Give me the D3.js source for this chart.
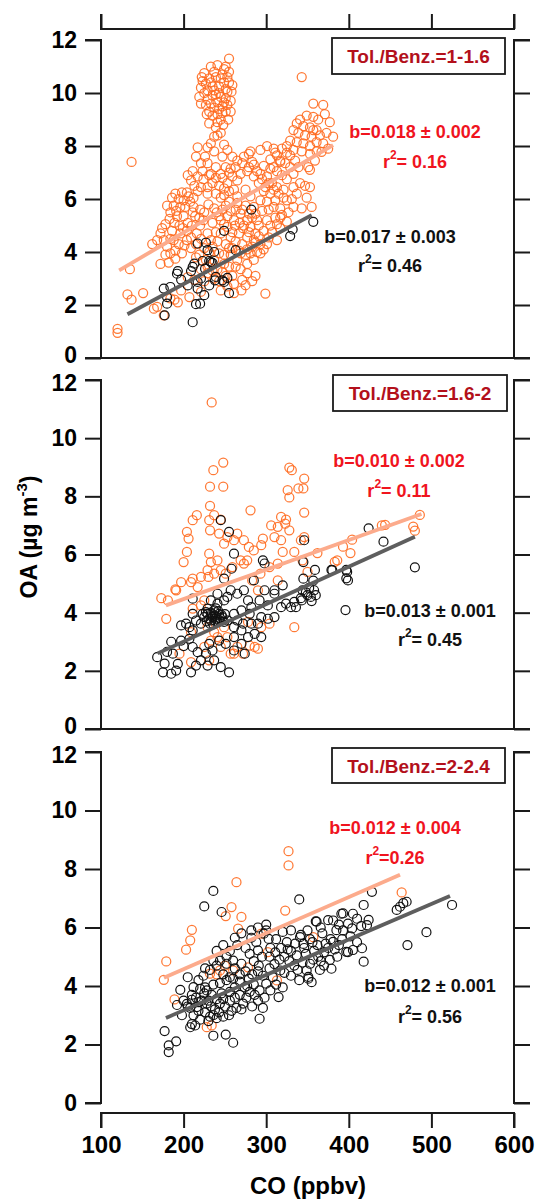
<!DOCTYPE html>
<html><head><meta charset="utf-8">
<script src="https://cdn.jsdelivr.net/npm/d3@7"></script>
<style>body{margin:0;background:#fff}svg{display:block}text{font-family:Arial,"Liberation Sans",sans-serif;font-weight:bold}</style>
</head><body><svg id="c" width="538" height="1201"></svg>
<script>
// ---------------- DATA ----------------
const xTicks = [100, 200, 300, 400, 500, 600];
const yTicks = [0, 2, 4, 6, 8, 10, 12];
const panelLabels = ["Tol./Benz.=1-1.6", "Tol./Benz.=1.6-2", "Tol./Benz.=2-2.4"];
const redSlopeText = ["b=0.018 ± 0.002", "b=0.010 ± 0.002", "b=0.012 ± 0.004"];
const redR2Text = ["= 0.16", "= 0.11", "=0.26"];
const blackSlopeText = ["b=0.017 ± 0.003", "b=0.013 ± 0.001", "b=0.012 ± 0.001"];
const blackR2Text = ["= 0.46", "= 0.45", "= 0.56"];
// fit lines: [CO start, OA start, CO end, OA end]
const orangeFit = [[122, 3.31, 381, 8.03], [178.6, 4.25, 488, 7.39], [176.2, 4.28, 462, 7.8]];
const grayFit = [[132, 1.65, 355, 5.39], [168.5, 2.6, 480, 6.61], [178.6, 2.91, 522.5, 7.08]];

// panel 1 (Tol./Benz. = 1-1.6) [CO, OA]
const p1Orange = [
[255,11.3],[249,10.9],[237,10.8],[225,10.75],[222,10.6],[255,10.8],[245,10.55],[233,10.4],[221,10.2],[229,10.1],[237,10.1],[249,10.4],[255,10.4],[259,10.3],[253,10.05],[243,10.0],[235,9.9],[225,10.0],[219,9.85],[229,9.75],[241,9.65],[251,9.8],[257,9.7],[247,9.5],[237,9.45],[231,9.3],[241,9.2],[251,9.3],[257,9.3],[245,9.0],[231,8.85],[241,8.9],[227,10.35],[243,10.25],[251,10.15],[233,9.6],[245,9.85],[239,10.6],[228,9.2],[254,9.0],[248,8.8],
[223,10.45],[235,10.25],[247,10.7],[253,10.6],[258,10.05],[231,10.55],[239,9.95],[249,9.65],[227,9.55],[221,9.6],[235,9.15],[243,9.4],[253,9.55],[239,8.7],[247,9.25],[233,11.0],[241,11.05],[251,11.0],
[137,7.4],[343,10.6],[120,1.1],[120,0.95],[135,3.35],[132,2.4],[137,2.2],[151,2.45],[299,2.43],[164,1.86],[176,1.61],[168,1.93],
[357,9.6],[369,9.55],[377,8.9],[381,8.35],[367,7.78],[341,9.0],[349,9.15],[357,9.1],[345,8.75],[353,8.7],[361,8.6],[333,8.6],[339,8.5],[347,8.4],[355,8.35],[361,8.15],[329,8.2],[337,8.15],[345,8.1],[353,8.0],[325,8.0],[319,7.9],[333,7.85],[343,7.8],[353,7.7],[361,7.8],[329,7.65],[351,7.2],[353,7.1],[341,6.6],[347,6.5],[353,6.45],[355,5.7],[343,5.65],[349,6.05],[365,8.4],[337,8.85],[311,7.75],[305,7.5],[317,7.4],
[357,8.6],[371,9.2],[363,9.0],[373,8.5],[359,7.45],[369,8.1],[375,7.9],
[190,6.2],[198,6.25],[204,6.25],[194,6.0],[200,5.95],[208,5.9],[188,5.75],[196,5.7],[202,5.7],[180,5.75],[184,5.5],[192,5.35],[200,5.35],[212,5.7],[214,5.35],[220,5.6],[172,4.7],[168,4.45],[174,4.9],[176,4.45],[180,4.2],[184,3.95],[190,4.05],[188,4.45],[196,4.7],[194,4.3],[198,3.95],[190,3.75],[182,3.6],[172,3.55],[204,4.8],[210,5.0],[220,5.0],[216,4.7],[204,4.45],[224,5.2],[229,4.7],[162,4.3],[178,3.9],[186,4.8],[206,6.1],[186,6.05],
[237,8.35],[241,8.4],[245,8.5],[229,7.95],[237,7.8],[215,7.6],[221,7.35],[211,7.05],[217,6.85],[223,7.05],[229,7.35],[233,6.95],[239,7.2],[245,6.95],[251,7.2],[257,7.15],[263,7.2],[265,6.7],[259,6.85],[253,6.6],[243,6.5],[235,6.6],[229,6.45],[221,6.45],[229,6.2],[239,6.2],[249,6.15],[261,6.35],[269,6.95],[279,7.2],[279,7.7],[285,6.85],[291,6.6],[275,6.35],[217,7.95],[205,6.9],[209,6.7],[226,7.6],[247,7.6],[233,8.1],
[281,7.8],[283,7.4],[293,6.95],[301,6.85],[309,7.9],[313,7.65],[317,7.45],[323,7.35],[329,7.2],[309,7.2],[299,6.45],[305,6.2],[313,6.45],[321,6.35],[333,6.45],[325,5.95],[333,5.7],[317,5.65],[309,5.7],[301,5.9],[293,5.95],[285,5.7],[275,5.75],[269,5.45],[261,5.2],[253,5.35],[245,5.2],[277,5.2],[289,5.2],[301,5.2],[313,5.05],[325,5.15],[297,4.8],[287,4.7],[277,4.55],[267,4.7],[257,4.55],[251,4.3],[271,4.3],[283,4.2],[293,4.3],[303,4.55],[313,4.45],[293,3.95],[285,3.7],[275,3.9],[265,3.7],[257,3.9],[249,3.55],[241,3.35],[247,3.25],[255,3.45],[269,3.35],[277,3.2],[287,3.1],[271,2.95],[261,2.8],[253,2.7],[245,2.55],[261,2.45],[275,2.75],[237,3.0],[229,3.2],[221,3.35],[229,3.45],[237,3.7],[243,3.95],[235,4.2],[241,4.4],[245,4.7],[253,4.95],[213,2.95],[205,3.05],[197,2.55],[189,2.2],[193,2.1],[184,2.25],[293,7.85],[301,8.0],[271,7.35],[277,7.05],[265,6.1],[255,5.9],[247,5.6],[263,5.6],[281,6.1],[297,6.3],[319,6.9],[307,6.6],[289,4.0],[267,4.05],[259,4.15],[277,3.55],[249,3.9],[259,3.1],[225,2.9],[215,3.8],[231,4.0],[281,4.95],[305,5.0],[317,4.9],[221,2.5],[207,2.3],[270,2.55],[283,2.9],[230,5.8],[240,5.5],[235,5.1],
[262,5.0],[268,5.1],[272,4.9],[279,4.75],[285,4.45],[291,4.6],[297,4.1],[301,4.3],[307,4.75],[311,5.3],[319,5.4],[327,5.5],[331,6.0],[337,6.2],[321,6.05],[315,6.2],[309,6.35],[303,6.6],[295,6.75],[289,7.05],[285,7.3],[273,7.6],[265,7.45],[259,7.6],[253,7.85],[249,8.05],[255,6.3],[249,6.4],[245,6.05],[251,5.75],[257,5.55],[265,5.85],[271,5.6],[279,5.45],[287,5.45],[295,5.55],[303,5.6],[311,5.95],[317,5.3],[291,5.0],[283,5.3],[273,5.0],[259,4.75],[263,4.4],[255,4.15],[269,3.95],[281,3.95],[287,4.35],[277,4.1],[263,3.45],[251,3.1],[243,2.9],[235,3.3],[227,3.7],[233,4.45],[239,4.75],[249,5.05],[243,5.35],[237,5.65],[225,5.5],[219,5.3],[211,5.5],[205,5.1],[199,4.9],[209,4.55],[215,4.3],[221,4.5],[225,4.15],[219,3.9],[209,4.15],[201,4.25],[195,5.0],[189,5.1],[183,5.25],[178,5.05],[184,4.5],[191,5.55],[212,6.05],[217,6.3],[224,6.75],[213,6.5],[231,6.9],[239,6.8],[247,6.8],[255,7.0],[297,7.25],[305,7.15],[313,7.05],[325,6.75],[333,6.95],[339,7.2],[325,7.75],[335,7.45]
];
const p1Black = [
[282,5.6],[249,4.8],[263,4.07],[237,4.0],[227,4.35],[217,4.32],[229,4.07],[233,3.62],[231,3.66],[235,3.59],[223,3.66],[213,3.56],[209,3.28],[197,2.96],[193,3.28],[192,3.18],[184,2.68],[176,2.62],[180,2.3],[180,2.05],[177,1.61],[211,1.35],[215,2.03],[220,2.05],[225,2.37],[217,2.62],[217,2.87],[221,3.0],[231,2.74],[238,2.93],[247,2.93],[253,3.02],[255,2.45],[249,2.87],[357,5.14],[329,4.6],[332,4.85],[226,3.37],[239,3.06],[211,3.44],[205,2.74]
];

// panel 2 (Tol./Benz. = 1.6-2)
const p2Orange = [
[234,11.23],[248,9.16],[236,8.9],[232,8.33],[248,8.33],[281,7.52],[232,7.67],[231,7.18],[237,7.35],[245,7.2],[232,6.83],[243,6.72],[216,7.35],[211,7.18],[204,6.78],[206,6.55],[204,6.09],[200,5.74],[231,6.03],[233,5.74],[229,5.46],[230,5.23],[249,6.37],[261,6.49],[253,6.6],[265,6.72],[273,6.49],[279,6.26],[285,6.14],[294,6.32],[296,6.55],
[328,8.99],[331,8.9],[346,8.61],[339,8.27],[326,8.21],[328,7.96],[346,7.44],[318,7.29],[324,7.2],[323,7.06],[328,6.83],[314,6.95],[306,7.0],[318,6.49],[320,6.09],[310,6.6],[334,3.5],[346,6.6],[350,5.4],[362,6.05],[344,5.8],[386,5.8],[404,6.51],[402,6.05],[383,5.75],[393,6.27],[440,7.0],[444,7.02],[478,6.96],[480,6.82],[486,7.36],[345,8.27],
[179,3.79],[181,4.42],[191,4.77],[209,5.05],[217,4.88],[211,4.14],[221,4.25],[225,4.42],[209,3.33],[195,2.59],[209,2.3],[233,3.04],[241,3.16],[249,3.5],[253,3.16],[261,2.59],[272,2.59],[280,2.87],[286,2.82],[290,2.76],[294,3.5],[304,3.62],[278,3.68],[273,5.69],[290,4.77],[304,5.57],[314,5.11],[237,5.34],[241,5.8],[259,5.57],
[173,4.5],[190,4.8],[197,5.05],[211,5.17],[221,5.23],[245,5.46],[251,5.34],[269,5.8],[277,5.8],[283,5.11],[293,5.34],[314,5.69],[334,6.09],[342,6.49],[229,3.5],[237,3.33],[245,2.82],[257,2.59],[265,2.82],[225,2.82],[231,2.36]
];
const p2Black = [
[245,7.18],[255,6.78],[261,6.03],[296,5.8],[298,5.69],[249,5.17],[258,5.51],[285,5.11],[310,4.65],[320,4.94],[346,6.49],[345,5.74],[345,5.17],[344,4.77],[350,4.6],[358,4.77],[354,4.54],[380,5.46],[398,5.4],[399,5.11],
[424,6.9],[442,6.44],[397,5.47],[397,5.18],[379,5.47],[480,5.56],[396,4.09],[359,5.47],[357,5.1],[342,4.5],[348,4.7],[352,4.85],[355,4.4],[360,4.6],
[229,3.96],[235,3.85],[239,3.79],[233,3.73],[241,3.68],[232,3.62],[225,3.85],[243,3.96],[247,3.85],[237,4.08],[229,4.14],[223,3.96],[249,3.68],[238,3.9],[231,3.8],[244,3.7],[236,3.6],[242,4.05],
[234,3.95],[240,3.86],[228,3.7],[246,3.92],[238,3.72],[233,4.0],[227,4.02],[244,3.82],[250,3.95],[239,4.15],
[168,2.47],[175,1.95],[185,1.9],[191,2.01],[193,2.24],[187,2.59],[197,3.56],[203,3.62],[207,3.5],[211,3.39],[215,3.73],[221,3.62],[211,3.96],[197,3.04],[207,3.1],[211,2.82],[217,2.64],[221,2.36],[229,2.18],[215,2.18],[209,1.95],[227,2.59],[235,2.7],[245,2.13],[255,1.95],[237,2.36],[231,2.93],[243,3.04],[251,2.93],[261,3.16],[261,3.5],[270,3.39],[274,2.59],[272,3.62],[280,3.96],[290,3.62],[294,3.85],[302,3.79],[310,3.85],[318,4.19],[324,4.31],[330,4.19],[334,4.37],[336,4.19],[343,4.42],
[253,4.54],[257,4.77],[265,4.65],[273,4.77],[278,4.42],[282,4.19],[292,4.42],[302,4.25],[310,4.77],[298,4.77],[249,4.42],[241,4.31],[233,4.42],[241,4.65],[261,3.96],[253,3.73],[265,3.73],[270,4.08],[282,3.62],[286,3.27],[294,3.16],[278,3.16],[270,2.93],[261,2.7],[211,4.48],[185,3.0],[180,2.65],[200,2.85],[177,2.25]
];

// panel 3 (Tol./Benz. = 2-2.4)
const p3Orange = [
[176,4.21],[179,4.84],[189,3.54],[203,5.24],[208,5.56],[210,5.92],[232,4.42],[228,2.59],[234,2.65],[251,6.39],[258,6.7],[264,7.55],[266,5.96],[270,6.36],[278,4.64],[244,4.53],[260,4.53],[294,5.79],[302,5.16],[323,6.58],[327,8.61],[327,8.12],[357,5.67],[313,4.19],[464,7.2],[250,4.7],[240,4.4]
];
const p3Black = [
[236,7.25],[225,6.72],[246,6.53],[340,6.96],[360,6.21],[177,2.46],[182,1.97],[182,1.74],[191,2.11],[196,3.87],[204,3.39],[208,2.59],[214,2.65],[212,3.96],[220,3.9],[228,3.85],[210,3.53],[216,3.28],[251,2.34],[260,2.06],[292,2.88],[315,3.62],[292,3.85],[300,4.08],[308,4.3],[317,4.53],[300,5.9],[297,5.79],[303,5.61],[290,5.22],[280,5.1],[270,4.76],[260,4.87],[252,5.0],[252,4.76],[244,4.87],[240,4.7],[236,4.87],[341,5.67],[345,5.44],[353,4.76],[351,4.25],[355,4.13],[349,4.53],[381,6.24],[391,6.47],[405,6.47],[399,5.16],[379,4.59],[393,5.9],[399,6.13],
[525,6.77],[494,5.84],[471,5.4],[466,6.83],[470,6.88],[458,6.6],[462,6.71],[428,7.22],[418,6.77],[393,6.48],[361,6.2],[424,6.26],[422,6.08],[385,5.91],[404,5.97],[381,5.51],[397,5.17],[405,5.23],[416,5.29],[418,4.83],[377,4.89],[351,4.31],[365,4.55],
[215,3.6],[222,3.5],[228,3.4],[233,3.3],[238,3.2],[243,3.1],[226,3.1],[232,2.95],[240,2.9],[248,2.95],[255,3.0],[250,3.3],[256,3.5],[262,3.6],[268,3.7],[246,3.75],[240,3.55],[234,3.7],[225,3.75],[218,3.15],[212,3.0],[205,3.3],[200,3.5],[220,2.85],[236,4.05],[244,4.1],[252,4.2],[260,4.25],[268,4.15],[274,3.95],[280,3.8],[286,3.7],[272,3.4],[264,3.25],[258,3.15],[230,2.8],[226,3.95],[210,3.7],[248,3.55],[262,3.95],[276,3.6],[290,3.5],[296,3.25],[285,4.05],
[283,4.4],[290,4.5],[296,4.35],[304,4.6],[310,4.75],[316,4.9],[322,5.0],[328,4.85],[334,4.7],[338,4.55],[344,4.8],[330,5.2],[318,5.3],[305,5.3],[295,5.0],[285,4.85],[275,4.5],[268,4.4],[312,5.6],[325,5.5],[335,5.45],[348,5.1],[358,5.2],[363,5.0],[370,5.15],[375,5.3],[356,5.5],[368,5.8],[378,5.6],[388,5.4],[386,5.0],[370,4.7],[340,4.2],[330,4.35],[322,4.45],[312,4.05],[342,5.75],[350,5.9],[288,5.5],[282,5.65],[265,5.4],[256,5.2],[275,5.3],[248,4.4],[256,4.3],[305,3.85],[320,3.95],[298,3.6],[270,3.2],[283,3.3],[300,6.1],[320,5.85],[330,5.9],
[205,4.3],[218,4.2],[226,4.6],[232,4.55],[240,5.2],[248,5.4],[262,5.65],[270,5.8],[282,5.9],[290,6.0],[192,3.35],[198,3.0],[210,2.7],[236,2.3],
[304,5.0],[311,5.15],[326,5.25],[337,5.05],[346,5.3],[353,5.6],[362,5.4],[372,5.45],[383,5.25],[392,5.6],[402,5.7],[410,5.5],[366,6.0],[375,6.25],[388,6.1],[410,6.3],[415,6.05],[357,4.9],[366,4.85],[291,4.7],[279,4.25],[262,4.6],[256,3.8],[244,3.4],[236,3.0],[230,3.5],[218,3.45],[208,3.25],[224,4.35],[277,4.0]
];

const orangeSeries = [p1Orange, p2Orange, p3Orange];
const blackSeries = [p1Black, p2Black, p3Black];

// ---------------- LAYOUT ----------------
const svg = d3.select("#c");
const X0 = 101, X1 = 514;
const x = d3.scaleLinear().domain([100, 600]).range([X0, X1]);
const panels = [
  {top: 40, bottom: 358, bottomLine: true, shiftTop: 0, shiftBottom: -3},
  {top: 380, bottom: 729, bottomLine: true, shiftTop: 3, shiftBottom: -3},
  {top: 752, bottom: 1103, bottomLine: false, shiftTop: 3, shiftBottom: 0}
];
const ann = [
  {box: [332, 38, 505, 74], labelY: 63, red: [415, 138, 168], black: [390, 243, 272]},
  {box: [333, 375, 507, 411], labelY: 400, red: [399, 467, 497], black: [430, 617, 646]},
  {box: [332, 748, 505, 783], labelY: 773, red: [395, 834, 864], black: [430, 992, 1023]}
];
const axisColor = "#1a1a1a";
const orangeStroke = "#ff6a1f";
const blackStroke = "#111";

function r2(g, cx, y, rest, color) {
  const t = g.append("text").attr("x", cx).attr("y", y).attr("text-anchor", "middle")
    .attr("fill", color).style("font-size", "18px");
  t.append("tspan").text("r");
  t.append("tspan").attr("dy", -9).style("font-size", "12px").text("2");
  t.append("tspan").attr("dy", 9).text(rest);
}

panels.forEach((p, i) => {
  const y = d3.scaleLinear().domain([0, 12]).range([p.bottom, p.top]);
  const g = svg.append("g");

  // points
  g.append("g").selectAll("circle").data(orangeSeries[i]).join("circle")
    .attr("cx", d => x(d[0])).attr("cy", d => y(d[1])).attr("r", 4.5)
    .attr("fill", "none").attr("stroke", orangeStroke).attr("stroke-width", 1.25).attr("stroke-opacity", 0.9);
  g.append("g").selectAll("circle").data(blackSeries[i]).join("circle")
    .attr("cx", d => x(d[0])).attr("cy", d => y(d[1])).attr("r", 4.5)
    .attr("fill", "none").attr("stroke", blackStroke).attr("stroke-width", 1.2);

  // fit lines
  const of = orangeFit[i], gf = grayFit[i];
  g.append("line").attr("x1", x(of[0])).attr("y1", y(of[1])).attr("x2", x(of[2])).attr("y2", y(of[3]))
    .attr("stroke", "#fcab8c").attr("stroke-width", 3.8);
  g.append("line").attr("x1", x(gf[0])).attr("y1", y(gf[1])).attr("x2", x(gf[2])).attr("y2", y(gf[3]))
    .attr("stroke", "#5e5e5e").attr("stroke-width", 3.8);

  // left axis
  const la = g.append("g").attr("transform", `translate(${X0},0)`)
    .call(d3.axisLeft(y).tickValues(yTicks).tickSize(16).tickPadding(8).tickFormat(d3.format("d")));
  la.select(".domain").attr("stroke", axisColor).attr("stroke-width", 2).attr("d", `M-16,${p.bottom}H0V${p.top}H-16`);
  la.selectAll(".tick line").attr("stroke", axisColor).attr("stroke-width", 2);
  la.selectAll(".tick text").attr("fill", "#000").style("font-size", "23px")
    .style("font-family", "Arial, 'Liberation Sans', sans-serif").style("font-weight", "bold")
    .attr("y", d => d === 12 ? p.shiftTop : (d === 0 ? p.shiftBottom : 0));

  // right axis
  const ra = g.append("g").attr("transform", `translate(${X1},0)`)
    .call(d3.axisRight(y).tickValues(yTicks).tickSize(16).tickFormat(""));
  ra.select(".domain").attr("stroke", axisColor).attr("stroke-width", 2).attr("d", `M16,${p.bottom}H0V${p.top}H16`);
  ra.selectAll(".tick line").attr("stroke", axisColor).attr("stroke-width", 2);

  if (p.bottomLine) {
    g.append("line").attr("x1", X0).attr("x2", X1).attr("y1", p.bottom).attr("y2", p.bottom)
      .attr("stroke", axisColor).attr("stroke-width", 2);
  }

  // annotation box
  const a = ann[i];
  g.append("rect").attr("x", a.box[0]).attr("y", a.box[1]).attr("width", a.box[2] - a.box[0]).attr("height", a.box[3] - a.box[1])
    .attr("fill", "#fff").attr("stroke", axisColor).attr("stroke-width", 1.8);
  g.append("text").attr("x", (a.box[0] + a.box[2]) / 2).attr("y", a.labelY).attr("text-anchor", "middle")
    .attr("fill", "#b3101b").style("font-size", "19px").text(panelLabels[i]);

  g.append("text").attr("x", a.red[0]).attr("y", a.red[1]).attr("text-anchor", "middle")
    .attr("fill", "#f0141e").style("font-size", "18px").text(redSlopeText[i]);
  r2(g, a.red[0], a.red[2], redR2Text[i], "#f0141e");
  g.append("text").attr("x", a.black[0]).attr("y", a.black[1]).attr("text-anchor", "middle")
    .attr("fill", "#111").style("font-size", "18px").text(blackSlopeText[i]);
  r2(g, a.black[0], a.black[2], blackR2Text[i], "#111");
});

// top axis
const ta = svg.append("g").attr("transform", "translate(0,29)")
  .call(d3.axisTop(x).tickValues(xTicks).tickSize(15).tickFormat(""));
ta.select(".domain").attr("stroke", axisColor).attr("stroke-width", 2).attr("d", `M${X0},-15V0H${X1}V-15`);
ta.selectAll(".tick line").attr("stroke", axisColor).attr("stroke-width", 2);

// bottom axis
const ba = svg.append("g").attr("transform", "translate(0,1113)")
  .call(d3.axisBottom(x).tickValues(xTicks).tickSize(15).tickPadding(8).tickFormat(d3.format("d")));
ba.select(".domain").attr("stroke", axisColor).attr("stroke-width", 2).attr("d", `M${X0},15V0H${X1}V15`);
ba.selectAll(".tick line").attr("stroke", axisColor).attr("stroke-width", 2);
ba.selectAll(".tick text").attr("fill", "#000").style("font-size", "24px").style("font-family", "Arial, 'Liberation Sans', sans-serif").style("font-weight", "bold");

// axis titles
svg.append("text").attr("x", 308).attr("y", 1194).attr("text-anchor", "middle").style("font-size", "24px").text("CO (ppbv)");
const yl = svg.append("text").attr("transform", "translate(37,537) rotate(-90)").attr("text-anchor", "middle").style("font-size", "23px");
yl.append("tspan").text("OA (µg m");
yl.append("tspan").attr("dy", -10).style("font-size", "15px").text("-3");
yl.append("tspan").attr("dy", 10).text(")");
</script>
</body></html>
